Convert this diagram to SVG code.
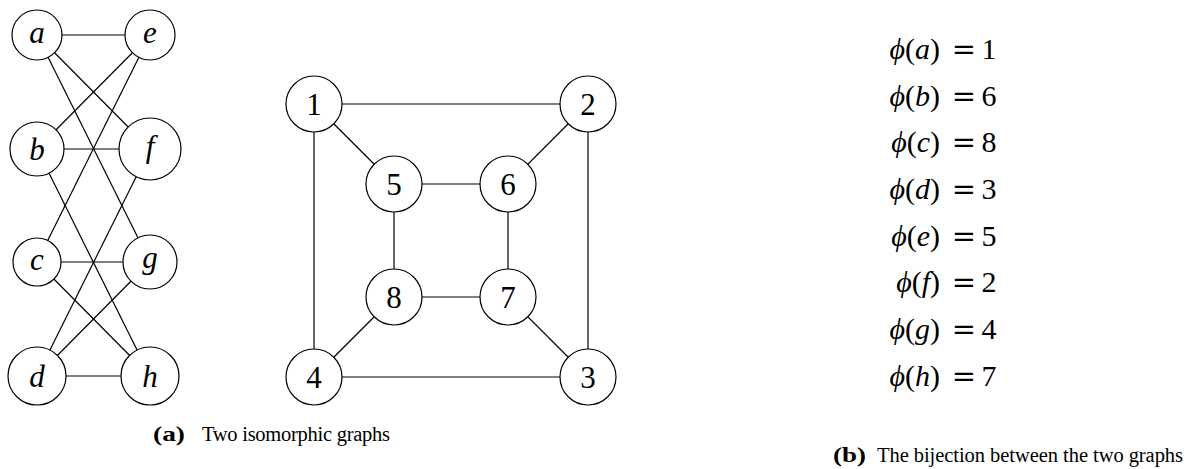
<svg xmlns="http://www.w3.org/2000/svg" width="1186" height="469" viewBox="0 0 1186 469">
<style>
.edge{stroke:#000;stroke-width:1.2;fill:none}
.node circle{fill:#fff;stroke:#000;stroke-width:1.2}
.lbl{font-family:"Liberation Serif","DejaVu Serif",serif;font-size:31px;fill:#000;text-anchor:middle}
.it{font-style:italic}
.eq{font-family:"Liberation Serif","DejaVu Serif",serif;font-size:30px;fill:#000}
.eqs{font-family:"DejaVu Serif",serif;font-size:29px;fill:#000;text-anchor:middle}
.cap{font-family:"Liberation Serif","DejaVu Serif",serif;font-size:20.5px;fill:#000}
.b{font-weight:bold;font-size:21px}
</style>
<g id="connectors">
<line class="edge" x1="37" y1="35" x2="150" y2="35"/>
<line class="edge" x1="37" y1="35" x2="150" y2="149"/>
<line class="edge" x1="37" y1="35" x2="150" y2="262"/>
<line class="edge" x1="37" y1="149" x2="150" y2="35"/>
<line class="edge" x1="37" y1="149" x2="150" y2="149"/>
<line class="edge" x1="37" y1="149" x2="150" y2="376"/>
<line class="edge" x1="37" y1="262" x2="150" y2="35"/>
<line class="edge" x1="37" y1="262" x2="150" y2="262"/>
<line class="edge" x1="37" y1="262" x2="150" y2="376"/>
<line class="edge" x1="37" y1="376" x2="150" y2="149"/>
<line class="edge" x1="37" y1="376" x2="150" y2="262"/>
<line class="edge" x1="37" y1="376" x2="150" y2="376"/>
<line class="edge" x1="314" y1="104" x2="588" y2="104"/>
<line class="edge" x1="314" y1="104" x2="394" y2="184"/>
<line class="edge" x1="314" y1="104" x2="314" y2="377"/>
<line class="edge" x1="588" y1="104" x2="508" y2="184"/>
<line class="edge" x1="588" y1="104" x2="588" y2="377"/>
<line class="edge" x1="394" y1="184" x2="508" y2="184"/>
<line class="edge" x1="394" y1="184" x2="394" y2="297"/>
<line class="edge" x1="508" y1="184" x2="508" y2="297"/>
<line class="edge" x1="394" y1="297" x2="508" y2="297"/>
<line class="edge" x1="394" y1="297" x2="314" y2="377"/>
<line class="edge" x1="508" y1="297" x2="588" y2="377"/>
<line class="edge" x1="314" y1="377" x2="588" y2="377"/>
</g>
<g id="node-a" class="node"><circle cx="37" cy="35" r="25"/><text class="lbl it" x="37" y="43">a</text></g>
<g id="node-e" class="node"><circle cx="150" cy="35" r="25"/><text class="lbl it" x="150" y="43">e</text></g>
<g id="node-b" class="node"><circle cx="37" cy="149" r="27"/><text class="lbl it" x="37" y="160">b</text></g>
<g id="node-f" class="node"><circle cx="150" cy="149" r="31"/><text class="lbl it" x="150" y="157">f</text></g>
<g id="node-c" class="node"><circle cx="37" cy="262" r="24"/><text class="lbl it" x="37" y="270">c</text></g>
<g id="node-g" class="node"><circle cx="150" cy="262" r="27"/><text class="lbl it" x="150" y="268">g</text></g>
<g id="node-d" class="node"><circle cx="37" cy="376" r="29"/><text class="lbl it" x="37" y="387">d</text></g>
<g id="node-h" class="node"><circle cx="150" cy="376" r="29"/><text class="lbl it" x="150" y="387">h</text></g>
<g id="node-1" class="node"><circle cx="314" cy="104" r="28"/><text class="lbl" x="314" y="115">1</text></g>
<g id="node-2" class="node"><circle cx="588" cy="104" r="28"/><text class="lbl" x="588" y="115">2</text></g>
<g id="node-3" class="node"><circle cx="588" cy="377" r="28"/><text class="lbl" x="588" y="388">3</text></g>
<g id="node-4" class="node"><circle cx="314" cy="377" r="28"/><text class="lbl" x="314" y="388">4</text></g>
<g id="node-5" class="node"><circle cx="394" cy="184" r="28"/><text class="lbl" x="394" y="195">5</text></g>
<g id="node-6" class="node"><circle cx="508" cy="184" r="28"/><text class="lbl" x="508" y="195">6</text></g>
<g id="node-7" class="node"><circle cx="508" cy="297" r="28"/><text class="lbl" x="508" y="308">7</text></g>
<g id="node-8" class="node"><circle cx="394" cy="297" r="28"/><text class="lbl" x="394" y="308">8</text></g>
<g id="bijection">
<text class="eq" x="940" y="59" text-anchor="end"><tspan class="it">ϕ</tspan>(<tspan class="it">a</tspan>)</text><text class="eqs" x="964" y="59">=</text><text class="eq" x="989" y="59" text-anchor="middle">1</text>
<text class="eq" x="940" y="106" text-anchor="end"><tspan class="it">ϕ</tspan>(<tspan class="it">b</tspan>)</text><text class="eqs" x="964" y="106">=</text><text class="eq" x="989" y="106" text-anchor="middle">6</text>
<text class="eq" x="940" y="152" text-anchor="end"><tspan class="it">ϕ</tspan>(<tspan class="it">c</tspan>)</text><text class="eqs" x="964" y="152">=</text><text class="eq" x="989" y="152" text-anchor="middle">8</text>
<text class="eq" x="940" y="199" text-anchor="end"><tspan class="it">ϕ</tspan>(<tspan class="it">d</tspan>)</text><text class="eqs" x="964" y="199">=</text><text class="eq" x="989" y="199" text-anchor="middle">3</text>
<text class="eq" x="940" y="246" text-anchor="end"><tspan class="it">ϕ</tspan>(<tspan class="it">e</tspan>)</text><text class="eqs" x="964" y="246">=</text><text class="eq" x="989" y="246" text-anchor="middle">5</text>
<text class="eq" x="940" y="292" text-anchor="end"><tspan class="it">ϕ</tspan>(<tspan class="it">f</tspan>)</text><text class="eqs" x="964" y="292">=</text><text class="eq" x="989" y="292" text-anchor="middle">2</text>
<text class="eq" x="940" y="339" text-anchor="end"><tspan class="it">ϕ</tspan>(<tspan class="it">g</tspan>)</text><text class="eqs" x="964" y="339">=</text><text class="eq" x="989" y="339" text-anchor="middle">4</text>
<text class="eq" x="940" y="386" text-anchor="end"><tspan class="it">ϕ</tspan>(<tspan class="it">h</tspan>)</text><text class="eqs" x="964" y="386">=</text><text class="eq" x="989" y="386" text-anchor="middle">7</text>
</g>
<g id="captions">
<text class="cap b" x="153" y="441" textLength="32" lengthAdjust="spacingAndGlyphs">(a)</text>
<text class="cap" x="202" y="441" textLength="188" lengthAdjust="spacing">Two isomorphic graphs</text>
<text class="cap b" x="833" y="462" textLength="33" lengthAdjust="spacingAndGlyphs">(b)</text>
<text class="cap" x="877" y="462" textLength="306" lengthAdjust="spacing">The bijection between the two graphs</text>
</g>
</svg>
